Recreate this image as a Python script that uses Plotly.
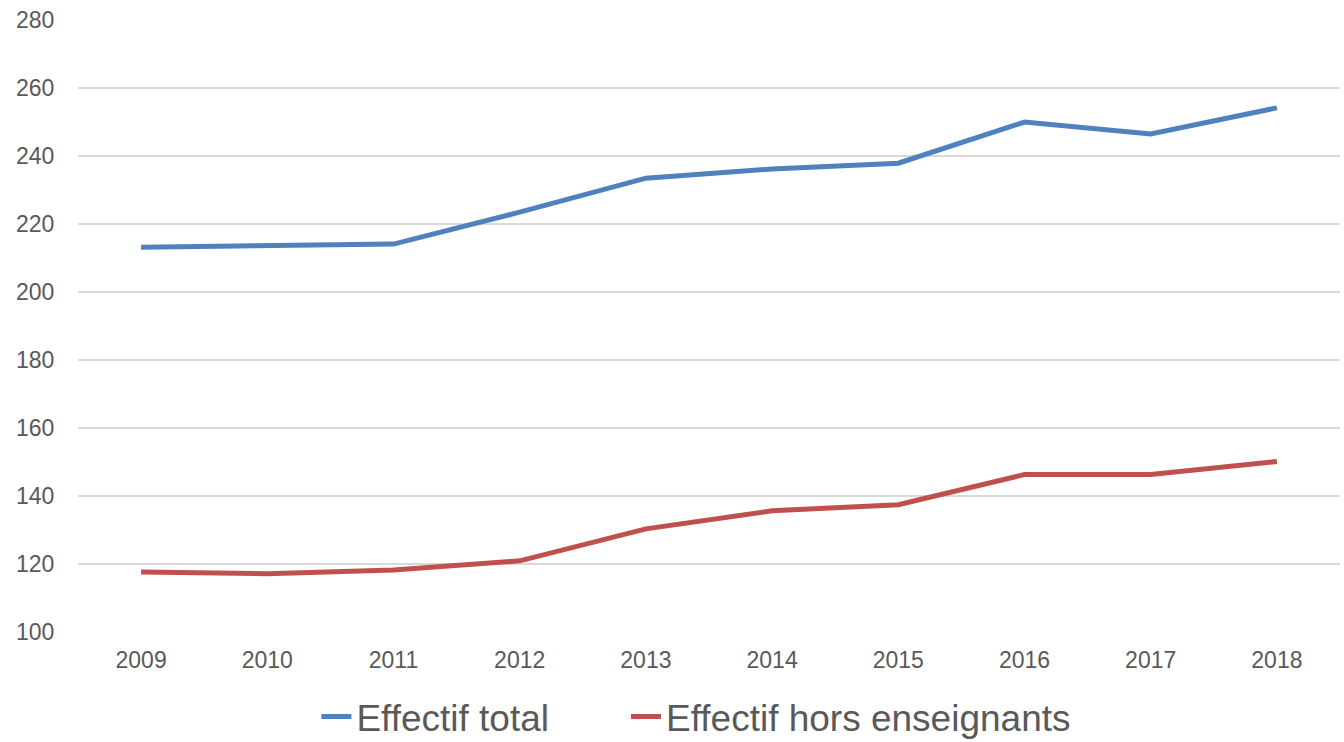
import plotly.graph_objects as go

years = ["2009", "2010", "2011", "2012", "2013", "2014", "2015", "2016", "2017", "2018"]
effectif_total = [213.2, 213.8, 214.1, 223.5, 233.5, 236.2, 237.9, 250.0, 246.5, 254.2]
effectif_hors = [117.6, 117.1, 118.2, 120.9, 130.3, 135.6, 137.4, 146.3, 146.3, 150.1]
yticks = [100, 120, 140, 160, 180, 200, 220, 240, 260, 280]
series_names = ["Effectif total", "Effectif hors enseignants"]

fig = go.Figure()
fig.add_trace(go.Scatter(x=years, y=effectif_total, mode="lines",
                         name=series_names[0] + "\u00a0" * 7,
                         line=dict(color="#4F81BD", width=5)))
fig.add_trace(go.Scatter(x=years, y=effectif_hors, mode="lines", name=series_names[1],
                         line=dict(color="#C0504D", width=5)))

fig.update_layout(
    width=1344, height=760,
    margin=dict(l=78, r=4, t=20, b=128),
    paper_bgcolor="white", plot_bgcolor="white",
    font=dict(family="Liberation Sans, Arial, sans-serif", color="#595959"),
    showlegend=True,
    legend=dict(orientation="h", x=0.49, xanchor="center", y=-0.139, yanchor="middle",
                font=dict(size=37, color="#595959"), itemwidth=30),
)
fig.update_xaxes(type="category", range=[-0.5, 9.5], showgrid=False, showline=False,
                 zeroline=False, tickfont=dict(size=23, color="#595959"), ticks="outside",
                 ticklen=7, tickcolor="rgba(0,0,0,0)")
fig.update_yaxes(range=[99.95, 280.05], tickvals=yticks, showgrid=True, gridcolor="#D9D9D9",
                 gridwidth=1.5, zeroline=False, showline=False,
                 tickfont=dict(size=23, color="#595959"), ticks="outside", ticklen=18,
                 tickcolor="rgba(0,0,0,0)")

fig.write_html("out.html", config={"displayModeBar": False},
               post_script="document.body.style.margin='0';document.body.style.overflow='hidden';")
